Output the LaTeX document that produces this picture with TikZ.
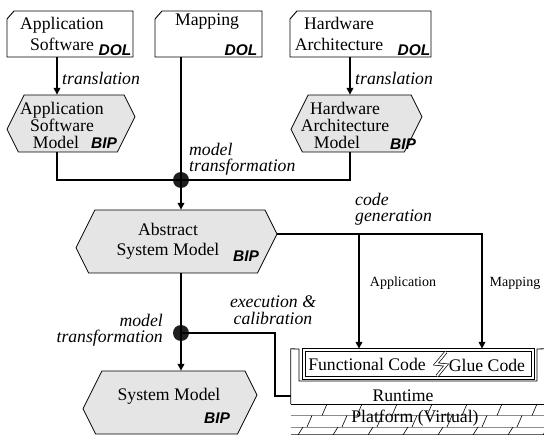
\documentclass[tikz,border=0pt]{standalone}
\usepackage{fontspec}
\setmainfont{Liberation Serif}
\newfontfamily\tagfont{Liberation Sans}
\usetikzlibrary{arrows.meta,calc}
\newcommand\chambox[5]{%
  \draw[boxline] (#2,{#3+8}) -- ({#2+7},#3) -- (#4,#3) -- (#4,#5) -- (#2,#5) -- cycle;
  \node[inner sep=0, minimum width={(#4-#2)*1pt}, minimum height={(#5-#3)*1pt}] (#1) at ({(#2+#4)/2},{(#3+#5)/2}) {};
}
\newcommand\hexnode[5]{%
  \pgfmathsetmacro\hh{#5-#3}%
  \filldraw[hexline] ({#2+0.30*\hh},#3) -- ({#4-0.19*\hh},#3) -- (#4,{#3+0.38*\hh}) -- ({#4-0.31*\hh},#5) -- ({#2+0.2*\hh},#5) -- (#2,{#3+0.6*\hh}) -- cycle;
  \node[inner sep=0, minimum width={(#4-#2)*1pt}, minimum height={\hh*1pt}] (#1) at ({(#2+#4)/2},{(#3+#5)/2}) {};
  \coordinate (#1-r) at (#4,{#3+0.38*\hh});
}
\begin{document}
\begin{tikzpicture}[x=1pt,y=-1pt,
  boxline/.style={draw, line width=0.9pt},
  hexline/.style={draw, line width=0.8pt, fill=black!10},
  conn/.style={line width=2.4pt},
  arr/.style={conn, -{Triangle[length=7pt,width=6.5pt]}},
  lbl/.style={font=\fontsize{17.7}{16.5}\selectfont\itshape, inner sep=0},
  mtext/.style={font=\fontsize{17.7}{21}\selectfont, inner sep=0, align=center},
  htext/.style={font=\fontsize{17.7}{17}\selectfont, inner sep=0, align=center},
  tagt/.style={font=\fontsize{15.5}{16}\tagfont\bfseries\itshape, inner sep=0},
  smallt/.style={font=\fontsize{14}{16}\selectfont, inner sep=0},
  dot/.style={circle, fill=black!88, minimum size=16pt, inner sep=0}]
\useasboundingbox (0,0) rectangle (544,435);

% coordinates for connector columns
\coordinate (xL) at (57,0);
\coordinate (xR) at (350,0);
\coordinate (xA) at (359,0);
\coordinate (xG) at (482,0);
\coordinate (xE) at (275,0);
\coordinate (rtin) at (291,396);

% top boxes
\chambox{b1}{7}{11}{133}{57}
\chambox{b2}{155}{11}{262}{57}
\chambox{b3}{290}{11}{431}{57}
\node[mtext] (b1t) at (62,33.5) {Application\\Software};
\node[tagt] (b1d) at (115,50) {DOL};
\node[mtext] (b2t) at (207,22) {Mapping};
\node[tagt] (b2d) at (241,50) {DOL};
\node[mtext] (b3t) at (339,33.5) {Hardware\\Architecture};
\node[tagt] (b3d) at (414,50) {DOL};

% hexagons
\hexnode{asm}{7}{95}{135}{152}
\hexnode{ham}{291}{95}{422}{152}
\hexnode{abs}{76}{210}{277}{273}
\hexnode{sm}{83}{371}{257}{434}
\node[htext] (asmt) at (62,125) {Application\\Software\\Model\hspace*{12pt}};
\node[tagt] (asmb) at (104,143) {BIP};
\node[htext] (hamt) at (345,125) {Hardware\\Architecture\\Model\hspace*{16pt}};
\node[tagt] (hamb) at (403,144) {BIP};
\node[mtext, font=\fontsize{17.7}{20}\selectfont] (abst) at (168,241) {Abstract\\System Model};
\node[tagt] (absb) at (246,256) {BIP};
\node[htext] (smt) at (169,396) {System Model};
\node[tagt] (smb) at (217,418) {BIP};

% platform stack
\node[inner sep=0, minimum width=253pt, minimum height=55pt] (runtime) at (417.5,376.5) {};
\node[inner sep=0, minimum width=231pt, minimum height=30pt] (code) at (418.5,364) {};
\draw[line width=0.8pt] (runtime.south west) -- (runtime.north west) -- (299,349) -- (299,381) -- (537,381) -- (537,349) -- (runtime.north east);
\draw[line width=0.8pt] (code.north west) rectangle (code.south east);
\draw[line width=0.8pt] ($(code.north west)+(3,3)$) rectangle ($(code.south east)+(-3,-3)$);
\draw[line width=0.7pt, double, double distance=1.8pt] (446,352) -- (436,364) -- (446,365) -- (437,376);
\node[htext] (fct) at (367,364) {Functional Code};
\node[htext] (gct) at (487,365) {Glue Code};
\node[htext] (rtt) at (403,396) {Runtime};
% platform hatching
\draw[line width=0.9pt] (runtime.south west) -- (runtime.south east);
\draw[line width=0.9pt, black!45] (291,415.5) -- (544,415.5);
\draw[line width=0.9pt, black!45] (291,427) -- (544,427);
\draw[line width=0.9pt, black!60] (291,434.5) -- (544,434.5);
\foreach \x in {322,357,392,427,462,497,532} \draw[line width=0.6pt] (\x,415.5) -- (\x+5,404);
\foreach \x in {307,342,377,412,447,482,517} \draw[line width=0.6pt] (\x,427) -- (\x+5,415.5);
\foreach \x in {298,333,368,403,438,473,508,543} \draw[line width=0.6pt] (\x,435) -- (\x+5,427);
\node[htext] (pft) at (415,418) {Platform (Virtual)};

% junction dots
\node[dot] (j1) at (181,180) {};
\node[dot] (j2) at (181,333) {};

% connectors
\draw[arr] (b1.south -| xL) -- (asm.north -| xL);
\draw[arr] (b3.south -| xR) -- (ham.north -| xR);
\draw[conn] (asm.south -| xL) |- (j1.center);
\draw[conn] (ham.south -| xR) |- (j1.center);
\draw[conn] (b2.south -| j1) -- (j1.center);
\draw[arr] (j1.center) -- (abs.north -| j1);
\draw[arr] (abs-r) -| (code.north -| xG);
\draw[arr] (abs-r -| xA) -- (code.north -| xA);
\draw[conn] (abs.south -| j2) -- (j2.center);
\draw[arr] (j2.center) -- (sm.north -| j2);
\draw[conn] (j2.center) -| (rtin -| xE) -- (rtin);

% labels
\node[lbl, anchor=west] (tr1) at (62,78) {translation};
\node[lbl, anchor=west] (tr2) at (355,78) {translation};
\node[lbl, align=left, anchor=west] (mt1) at (189,159) {model\\transformation};
\node[lbl, align=left, anchor=west] (cg) at (355,209) {code\\generation};
\node[smallt] (appl) at (403,283) {Application};
\node[smallt] (mapl) at (515,283) {Mapping};
\node[lbl, align=right, anchor=east] (mt2) at (163,330) {model\\transformation};
\node[lbl, align=center] (ec) at (273,310) {execution \&\\calibration};
\end{tikzpicture}
\end{document}
